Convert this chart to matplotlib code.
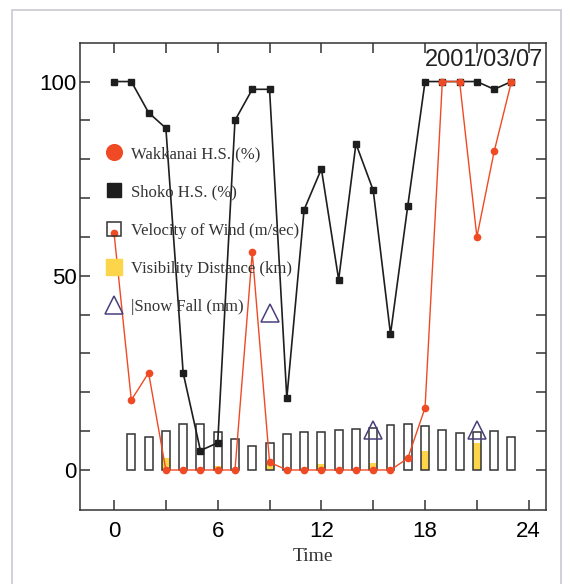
import matplotlib
matplotlib.use('Agg')
import matplotlib.pyplot as plt
from matplotlib.lines import Line2D
from matplotlib.patches import Rectangle
import numpy as np

# hourly values, 2001/03/07
hours = list(range(24))
wakkanai = [61, 18, 25, 0, 0, 0, 0, 0, 56, 2, 0, 0, 0, 0, 0, 0, 0, 3, 16, 100, 100, 60, 82, 100]
shoko = [100, 100, 92, 88, 25, 5, 7, 90, 98, 98, 18.5, 67, 77.5, 49, 84, 72, 35, 68, 100, 100, 100, 100, 98, 100]

wind_hours = list(range(1, 24))
wind = [9.3, 8.4, 10.0, 11.8, 11.8, 9.9, 8.0, 6.2, 7.0, 9.3, 9.7, 9.9, 10.4, 10.5, 10.7,
        11.6, 11.8, 11.4, 10.3, 9.6, 9.7, 10.0, 8.6]

vis_hours = [3, 6, 9, 12, 15, 18, 21]
visibility = [3.0, 0.9, 1.7, 1.5, 1.9, 5.0, 6.9]

snow_hours = [9, 15, 21]
snow = [40.4, 10.3, 10.3]

xticks = list(range(0, 25, 3))
xlabels = ['0', '', '6', '', '12', '', '18', '', '24']
yticks = list(range(0, 101, 10))
ylabels = ['0', '', '', '', '', '50', '', '', '', '', '100']

red = '#f04a24'
black = '#1e1e1e'
yellow = '#fcd54a'
navy = '#4b3f7a'
edge = '#333333'

serif = 'Liberation Serif'
sans = 'Liberation Sans'

fig = plt.figure(figsize=(5.75, 5.84), dpi=100)
ax = fig.add_axes([80/575, 1-510/584, 466/575, 467.3/584])

# page border
fig.patches.append(Rectangle((12/575, -0.05), 549/575, 1.05-10/584, transform=fig.transFigure,
                             fill=False, edgecolor='#c8c8d2', linewidth=1.2))

ax.bar(vis_hours, visibility, width=0.46, color=yellow, linewidth=0, zorder=1)
ax.bar(wind_hours, wind, width=0.46, facecolor='none', edgecolor=edge, linewidth=1.1, zorder=2)

ax.plot(hours, shoko, color=black, linewidth=1.2, marker='s', markersize=5, zorder=3)
ax.plot(hours, wakkanai, color=red, linewidth=1.0, marker='o', markersize=4.5, zorder=3.5)
ax.plot(snow_hours, snow, linestyle='none', marker='^', markersize=12.5,
        markerfacecolor='none', markeredgecolor=navy, markeredgewidth=1.1, zorder=4)

ax.set_xlim(-1.97, 25.0)
ax.set_ylim(-10.3, 110)
ax.set_xticks(xticks)
ax.set_xticklabels(xlabels, fontfamily=sans, fontsize=16)
ax.set_yticks(yticks)
ax.set_yticklabels(ylabels, fontfamily=sans, fontsize=16)
ax.tick_params(direction='in', length=7, width=1.1, color=edge, top=True, right=True)
ax.tick_params(axis='x', pad=8)
ax.tick_params(axis='y', pad=2.5)
for s in ax.spines.values():
    s.set_color(edge)
    s.set_linewidth(1.1)

ax.set_xlabel('Time', fontfamily=serif, fontsize=14, color='#333333', labelpad=4)
ax.text(0.9936, 0.963, '2001/03/07', transform=ax.transAxes, ha='right', va='center',
        fontfamily=sans, fontsize=17, color='#222222')

handles = [
    Line2D([], [], linestyle='none', marker='o', markersize=11.3, color=red),
    Line2D([], [], linestyle='none', marker='s', markersize=10.5, color=black),
    Line2D([], [], linestyle='none', marker='s', markersize=10.5, markerfacecolor='none',
           markeredgecolor=edge, markeredgewidth=1.1),
    Line2D([], [], linestyle='none', marker='s', markersize=11, color=yellow),
    Line2D([], [], linestyle='none', marker='^', markersize=12.5, markerfacecolor='none',
           markeredgecolor=navy, markeredgewidth=1.1),
]
labels = ['Wakkanai H.S. (%)', 'Shoko H.S. (%)', 'Velocity of Wind (m/sec)',
          'Visibility Distance (km)', '|Snow Fall (mm)']
ax.legend(handles, labels, loc='upper left', bbox_to_anchor=(0.056, 0.779), frameon=False,
          prop={'family': serif, 'size': 12}, labelcolor='#333333', handlelength=1.0,
          handletextpad=0.5, labelspacing=1.34, borderpad=0, borderaxespad=0)

fig.savefig('out.png', dpi=100, facecolor='white')
